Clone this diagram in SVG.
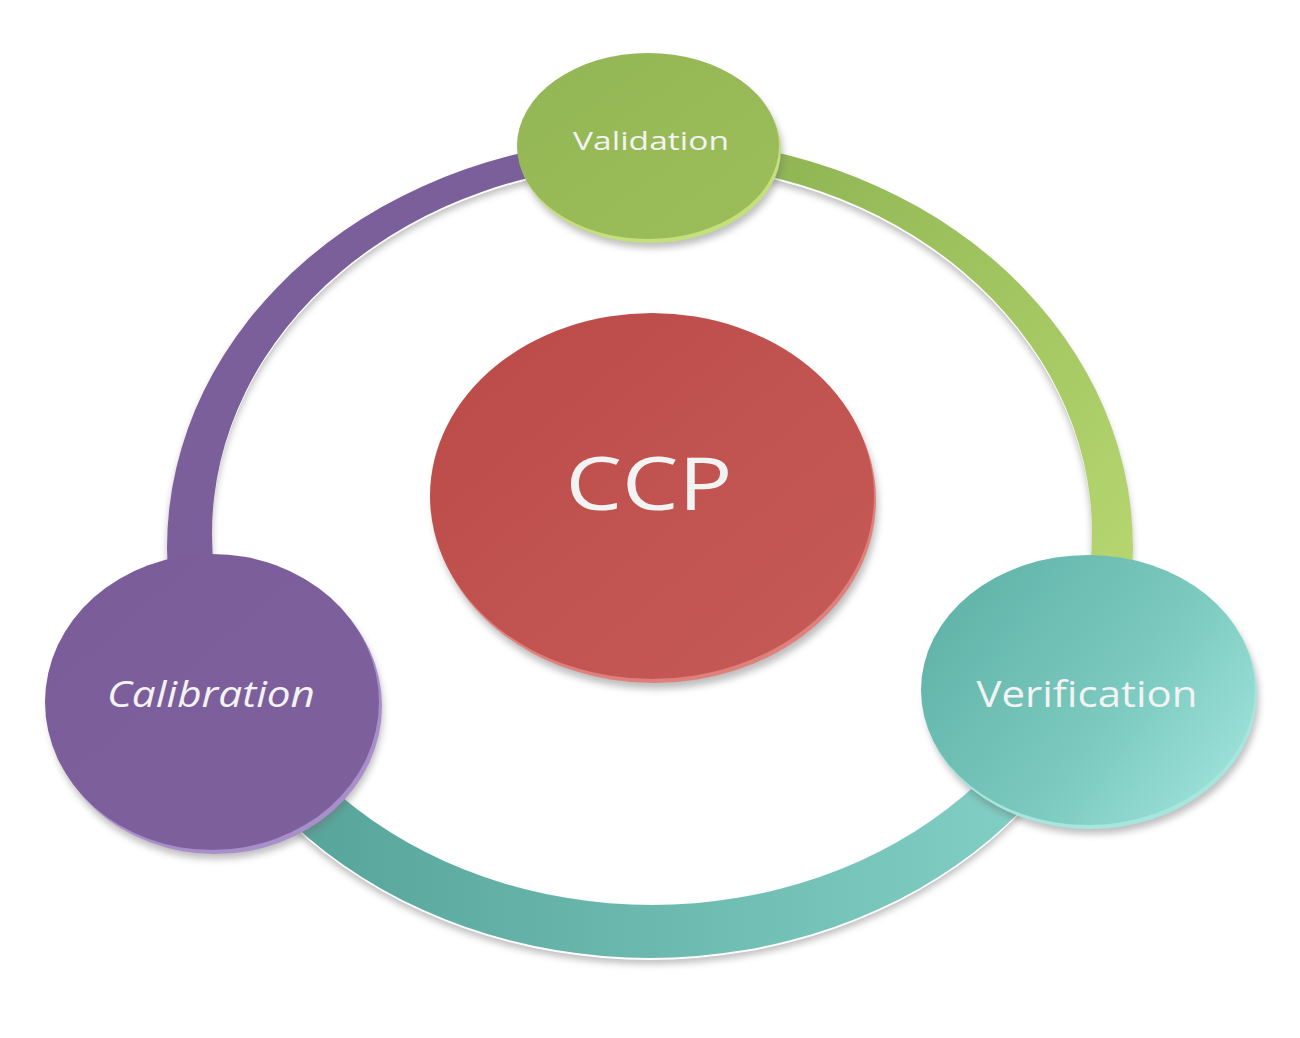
<svg xmlns="http://www.w3.org/2000/svg" width="1300" height="1038" viewBox="0 0 1300 1038">
  <style>
    .lbl { font-family: "Open Sans", "Noto Sans", "DejaVu Sans", sans-serif; fill: #f3f3f3; text-anchor: middle; }
    .shadow { fill: #6f6f6f; opacity: 0.45; filter: url(#blur); }
  </style>
  <defs>
    <filter id="blur" x="-20%" y="-20%" width="140%" height="140%">
      <feGaussianBlur stdDeviation="3.5"/>
    </filter>
    <path id="ringShape" fill-rule="evenodd" d="M167,548 a483,410 0 1,0 966,0 a483,410 0 1,0 -966,0 Z M212,534 a440,371 0 1,0 880,0 a440,371 0 1,0 -880,0 Z"/>
    <clipPath id="clipPurple"><polygon points="650,548 650,-10 -10,-10 -10,700"/></clipPath>
    <clipPath id="clipGreen"><polygon points="650,548 650,-10 1310,-10 1310,700"/></clipPath>
    <clipPath id="clipTeal"><polygon points="650,548 -10,700 -10,1048 1310,1048 1310,700"/></clipPath>
    <linearGradient id="gGreenRing" gradientUnits="userSpaceOnUse" x1="700" y1="160" x2="1130" y2="560">
      <stop offset="0" stop-color="#8cb351"/>
      <stop offset="1" stop-color="#b5d56f"/>
    </linearGradient>
    <linearGradient id="gTealRing" gradientUnits="userSpaceOnUse" x1="300" y1="0" x2="1000" y2="0">
      <stop offset="0" stop-color="#56a49a"/>
      <stop offset="1" stop-color="#7fcdc3"/>
    </linearGradient>
    <linearGradient id="gGreen" x1="0" y1="0" x2="1" y2="1">
      <stop offset="0" stop-color="#93b654"/>
      <stop offset="1" stop-color="#9cbd5a"/>
    </linearGradient>
    <linearGradient id="gPurple" x1="0" y1="0" x2="1" y2="1">
      <stop offset="0" stop-color="#7a5c99"/>
      <stop offset="1" stop-color="#7d619d"/>
    </linearGradient>
    <linearGradient id="gTeal" x1="0" y1="0.2" x2="1" y2="0.8">
      <stop offset="0" stop-color="#5fb2a7"/>
      <stop offset="0.6" stop-color="#7ccac0"/>
      <stop offset="1" stop-color="#9fe3db"/>
    </linearGradient>
    <linearGradient id="gRed" x1="0" y1="0" x2="1" y2="1">
      <stop offset="0" stop-color="#bb4a47"/>
      <stop offset="1" stop-color="#c65b58"/>
    </linearGradient>
  </defs>

  <rect width="1300" height="1038" fill="#ffffff"/>

  <g id="connectors">
    <use href="#ringShape" class="shadow" transform="translate(0,6)"/>
    <use href="#ringShape" fill="#ffffff" transform="translate(0,2)"/>
    <use href="#ringShape" fill="#7a5f9b" clip-path="url(#clipPurple)"/>
    <use href="#ringShape" fill="url(#gGreenRing)" clip-path="url(#clipGreen)"/>
    <use href="#ringShape" fill="url(#gTealRing)" clip-path="url(#clipTeal)"/>
  </g>

  <g id="node-ccp">
    <ellipse class="shadow" cx="656" cy="506" rx="222" ry="183"/>
    <ellipse cx="654" cy="500" rx="222" ry="183" fill="#e0807c"/>
    <ellipse cx="652" cy="496" rx="222" ry="183" fill="url(#gRed)"/>
    <text class="lbl" x="649" y="510" font-size="74" textLength="167" lengthAdjust="spacingAndGlyphs">CCP</text>
  </g>

  <g id="node-validation">
    <ellipse class="shadow" cx="652" cy="155" rx="131" ry="93"/>
    <ellipse cx="650" cy="150" rx="131" ry="93" fill="#c4e07c"/>
    <ellipse cx="648" cy="146" rx="131" ry="93" fill="url(#gGreen)"/>
    <text class="lbl" x="651" y="150" font-size="25" textLength="156" lengthAdjust="spacingAndGlyphs">Validation</text>
  </g>

  <g id="node-calibration">
    <ellipse class="shadow" cx="216" cy="711" rx="167" ry="148"/>
    <ellipse cx="215" cy="706" rx="167" ry="148" fill="#a88fcb"/>
    <ellipse cx="212" cy="702" rx="167" ry="148" fill="url(#gPurple)"/>
    <text class="lbl" x="211" y="707" font-size="37" font-style="italic" textLength="208" lengthAdjust="spacingAndGlyphs">Calibration</text>
  </g>

  <g id="node-verification">
    <ellipse class="shadow" cx="1092" cy="699" rx="167" ry="135"/>
    <ellipse cx="1090" cy="694" rx="167" ry="135" fill="#a6e6de"/>
    <ellipse cx="1088" cy="690" rx="167" ry="135" fill="url(#gTeal)"/>
    <text class="lbl" x="1087" y="707" font-size="37" textLength="221" lengthAdjust="spacingAndGlyphs">Verification</text>
  </g>
</svg>
